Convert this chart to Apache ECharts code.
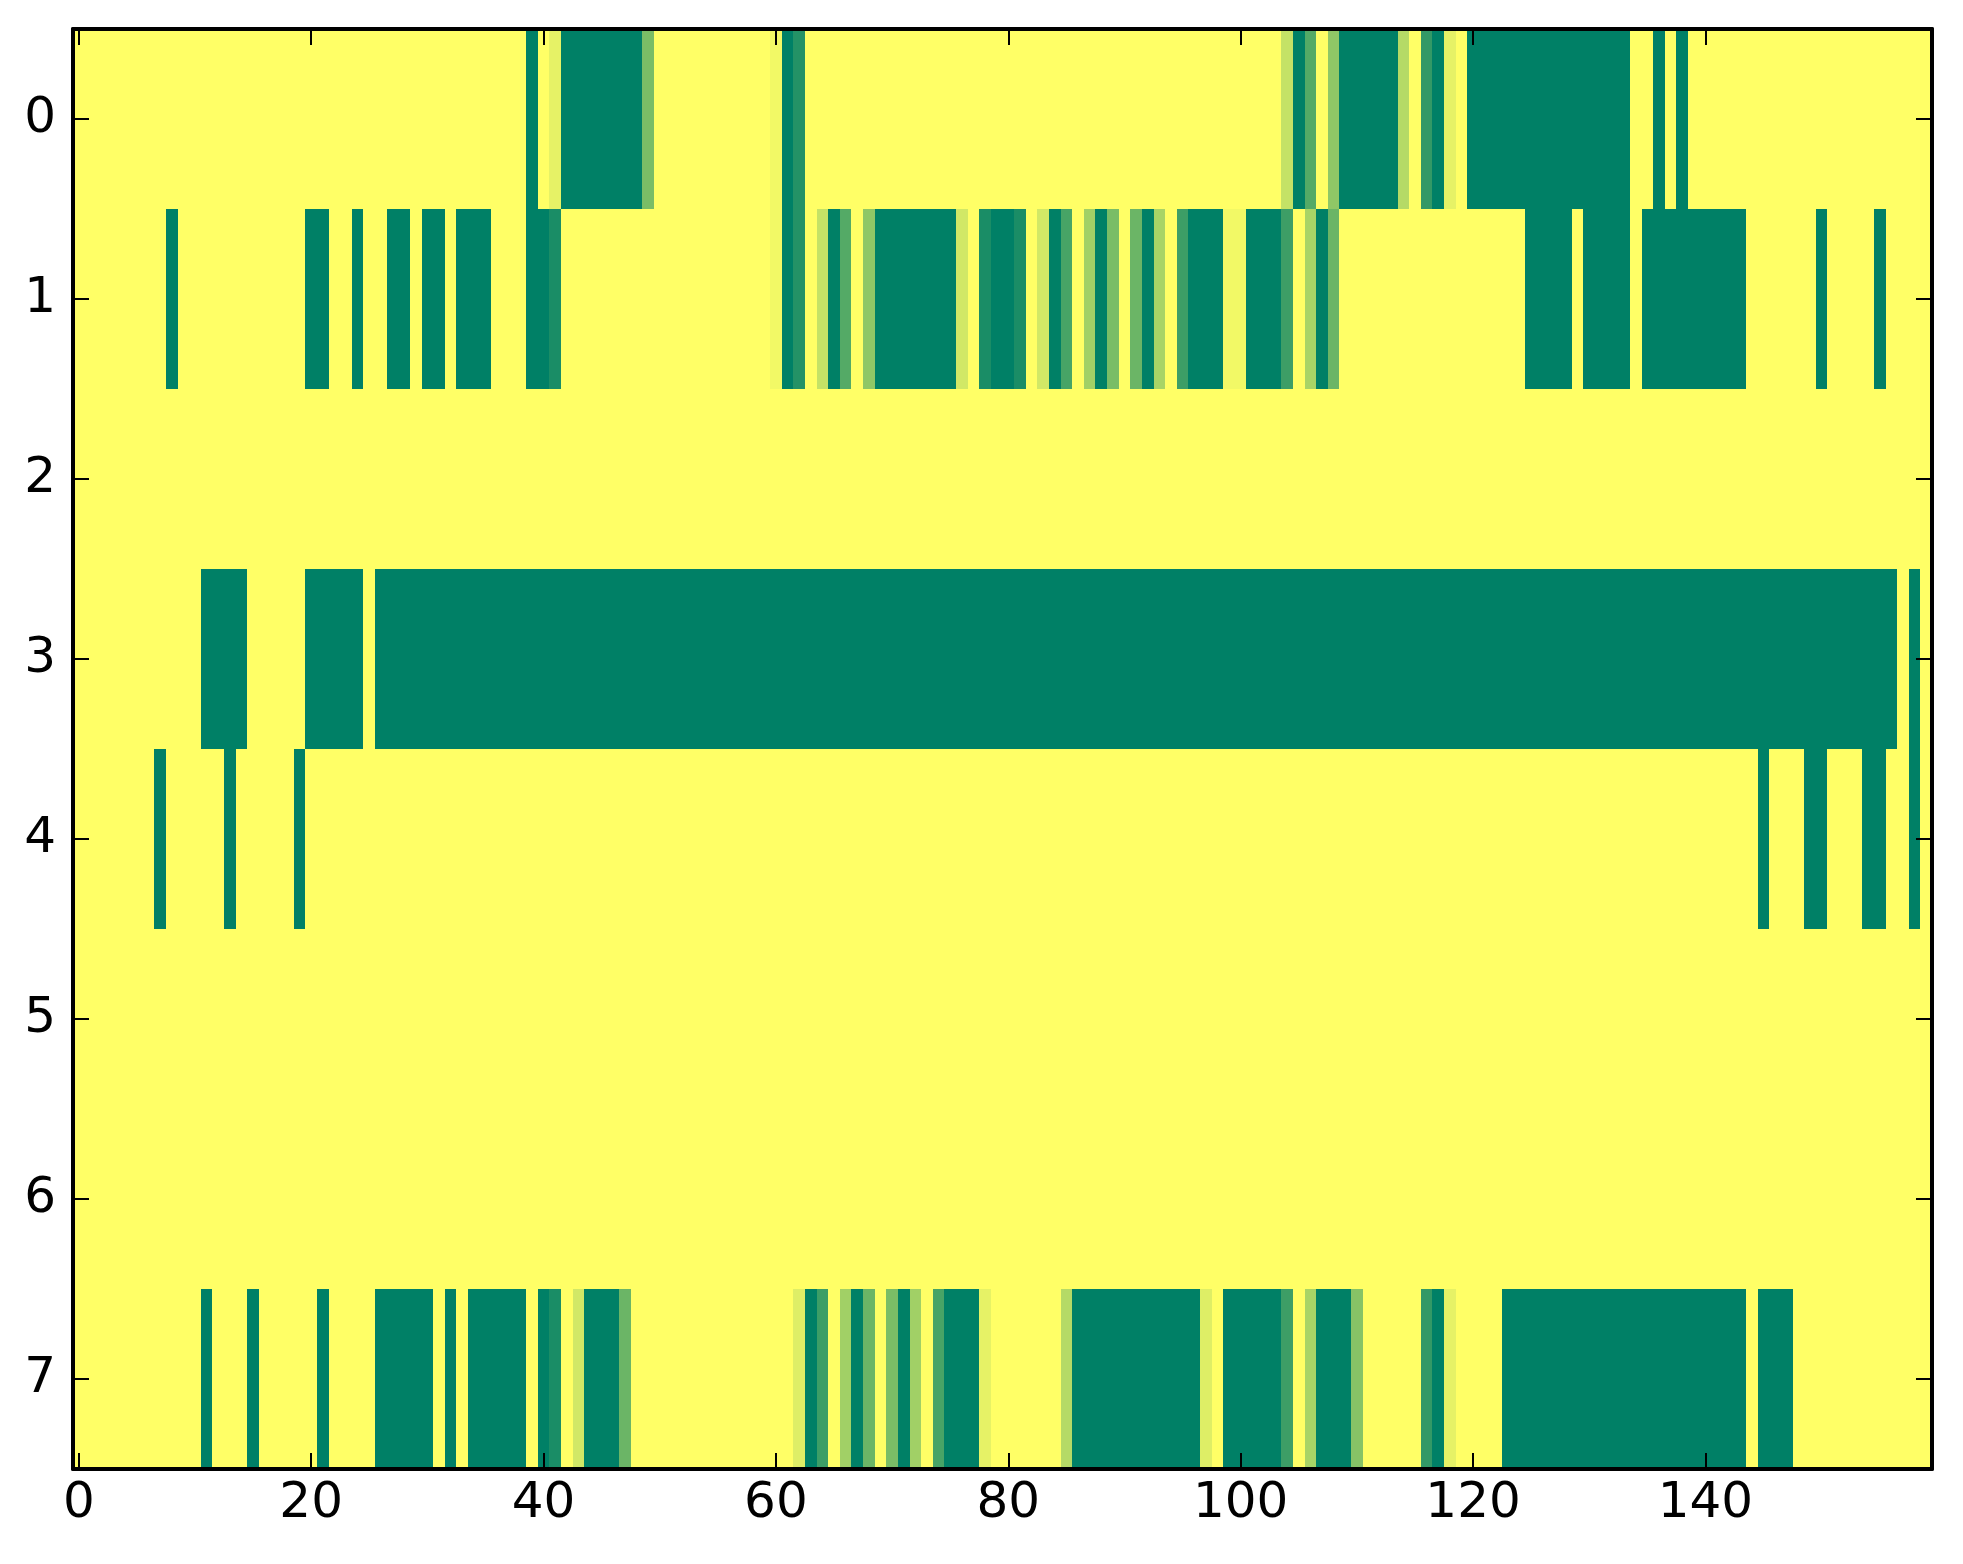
<!DOCTYPE html>
<html>
<head>
<meta charset="utf-8">
<script src="https://cdn.jsdelivr.net/npm/echarts@6/dist/echarts.min.js"></script>
<style>
html,body{margin:0;padding:0;background:#ffffff;}
#chart{width:1963px;height:1564px;}
</style>
</head>
<body>
<div id="chart"></div>
<script>
// x categories: column index 0..159, y categories: row index 0..7
const xCategories = Array.from({length: 160}, (_, i) => String(i));
const yCategories = ['0', '1', '2', '3', '4', '5', '6', '7'];
const xTickStep = 20;

// Cell values per row (0 = yellow, 1 = dark green), 160 columns each
const row0 = [
  0,0,0,0,0,0,0,0,0,0,
  0,0,0,0,0,0,0,0,0,0,
  0,0,0,0,0,0,0,0,0,0,
  0,0,0,0,0,0,0,0,0,1,
  0,0.1,1,1,1,1,1,1,1,0.52,
  0,0,0,0,0,0,0,0,0,0,
  0.05,1,0.86,0,0,0,0,0,0,0,
  0,0,0,0,0,0,0,0,0,0,
  0,0,0,0,0,0,0,0,0,0,
  0,0,0,0,0,0,0,0,0,0,
  0,0,0,0,0.23,1,0.67,0,0.44,1,
  1,1,1,1,0.29,0,0.8,1,0.1,0,
  1,1,1,1,1,1,1,1,1,1,
  1,1,1,1,0,0,1,0,1,0,
  0,0,0,0,0,0,0,0,0,0,
  0,0,0,0,0,0,0,0,0,0
];
const row1 = [
  0,0,0,0,0,0,0,0,1,0,
  0,0,0,0,0,0,0,0,0,0,
  1,1,0,0,1,0,0,1,1,0,
  1,1,0,1,1,1,0,0,0,1,
  1,0.9,0,0,0,0,0,0,0,0,
  0,0,0,0,0,0,0,0,0,0,
  0.05,1,0.86,0,0.23,1,0.67,0,0.44,1,
  1,1,1,1,1,1,0.18,0,0.9,1,
  1,0.9,0,0.18,1,0.72,0,0.37,1,0.52,
  0,0.58,1,0.34,0,0.76,1,1,1,0.05,
  0.05,1,1,1,0.76,0,0.34,1,0.58,0,
  0,0,0,0,0,0,0,0,0,0,
  0,0,0,0,0,1,1,1,1,0,
  1,1,1,1,0,1,1,1,1,1,
  1,1,1,1,0,0,0,0,0,0,
  1,0,0,0,0,1,0,0,0,0
];
const row2 = [
  0,0,0,0,0,0,0,0,0,0,
  0,0,0,0,0,0,0,0,0,0,
  0,0,0,0,0,0,0,0,0,0,
  0,0,0,0,0,0,0,0,0,0,
  0,0,0,0,0,0,0,0,0,0,
  0,0,0,0,0,0,0,0,0,0,
  0,0,0,0,0,0,0,0,0,0,
  0,0,0,0,0,0,0,0,0,0,
  0,0,0,0,0,0,0,0,0,0,
  0,0,0,0,0,0,0,0,0,0,
  0,0,0,0,0,0,0,0,0,0,
  0,0,0,0,0,0,0,0,0,0,
  0,0,0,0,0,0,0,0,0,0,
  0,0,0,0,0,0,0,0,0,0,
  0,0,0,0,0,0,0,0,0,0,
  0,0,0,0,0,0,0,0,0,0
];
const row3 = [
  0,0,0,0,0,0,0,0,0,0,
  0,1,1,1,1,0,0,0,0,0,
  1,1,1,1,1,0,1,1,1,1,
  1,1,1,1,1,1,1,1,1,1,
  1,1,1,1,1,1,1,1,1,1,
  1,1,1,1,1,1,1,1,1,1,
  1,1,1,1,1,1,1,1,1,1,
  1,1,1,1,1,1,1,1,1,1,
  1,1,1,1,1,1,1,1,1,1,
  1,1,1,1,1,1,1,1,1,1,
  1,1,1,1,1,1,1,1,1,1,
  1,1,1,1,1,1,1,1,1,1,
  1,1,1,1,1,1,1,1,1,1,
  1,1,1,1,1,1,1,1,1,1,
  1,1,1,1,1,1,1,1,1,1,
  1,1,1,1,1,1,1,0,1,0
];
const row4 = [
  0,0,0,0,0,0,0,1,0,0,
  0,0,0,1,0,0,0,0,0,1,
  0,0,0,0,0,0,0,0,0,0,
  0,0,0,0,0,0,0,0,0,0,
  0,0,0,0,0,0,0,0,0,0,
  0,0,0,0,0,0,0,0,0,0,
  0,0,0,0,0,0,0,0,0,0,
  0,0,0,0,0,0,0,0,0,0,
  0,0,0,0,0,0,0,0,0,0,
  0,0,0,0,0,0,0,0,0,0,
  0,0,0,0,0,0,0,0,0,0,
  0,0,0,0,0,0,0,0,0,0,
  0,0,0,0,0,0,0,0,0,0,
  0,0,0,0,0,0,0,0,0,0,
  0,0,0,0,0,1,0,0,0,1,
  1,0,0,0,1,1,0,0,1,0
];
const row5 = [
  0,0,0,0,0,0,0,0,0,0,
  0,0,0,0,0,0,0,0,0,0,
  0,0,0,0,0,0,0,0,0,0,
  0,0,0,0,0,0,0,0,0,0,
  0,0,0,0,0,0,0,0,0,0,
  0,0,0,0,0,0,0,0,0,0,
  0,0,0,0,0,0,0,0,0,0,
  0,0,0,0,0,0,0,0,0,0,
  0,0,0,0,0,0,0,0,0,0,
  0,0,0,0,0,0,0,0,0,0,
  0,0,0,0,0,0,0,0,0,0,
  0,0,0,0,0,0,0,0,0,0,
  0,0,0,0,0,0,0,0,0,0,
  0,0,0,0,0,0,0,0,0,0,
  0,0,0,0,0,0,0,0,0,0,
  0,0,0,0,0,0,0,0,0,0
];
const row6 = [
  0,0,0,0,0,0,0,0,0,0,
  0,0,0,0,0,0,0,0,0,0,
  0,0,0,0,0,0,0,0,0,0,
  0,0,0,0,0,0,0,0,0,0,
  0,0,0,0,0,0,0,0,0,0,
  0,0,0,0,0,0,0,0,0,0,
  0,0,0,0,0,0,0,0,0,0,
  0,0,0,0,0,0,0,0,0,0,
  0,0,0,0,0,0,0,0,0,0,
  0,0,0,0,0,0,0,0,0,0,
  0,0,0,0,0,0,0,0,0,0,
  0,0,0,0,0,0,0,0,0,0,
  0,0,0,0,0,0,0,0,0,0,
  0,0,0,0,0,0,0,0,0,0,
  0,0,0,0,0,0,0,0,0,0,
  0,0,0,0,0,0,0,0,0,0
];
const row7 = [
  0,0,0,0,0,0,0,0,0,0,
  0,1,0,0,0,1,0,0,0,0,
  0,1,0,0,0,0,1,1,1,1,
  1,0,1,0,1,1,1,1,1,0,
  1,0.9,0,0.18,1,1,1,0.58,0,0,
  0,0,0,0,0,0,0,0,0,0,
  0,0,0.13,1,0.76,0,0.37,1,0.58,0,
  0.52,1,0.37,0,0.72,1,1,1,0.1,0,
  0,0,0,0,0,0.29,1,1,1,1,
  1,1,1,1,1,1,1,0.13,0,1,
  1,1,1,1,0.76,0,0.34,1,1,1,
  0.47,0,0,0,0,0,0.8,1,0.1,0,
  0,0,0,1,1,1,1,1,1,1,
  1,1,1,1,1,1,1,1,1,1,
  1,1,1,1,0,1,1,1,0,0,
  0,0,0,0,0,0,0,0,0,0
];
const rows = [row0, row1, row2, row3, row4, row5, row6, row7];

const cells = [];
rows.forEach((r, y) => r.forEach((v, x) => cells.push([x, y, v])));

const FONT = 'DejaVu Sans';
const everyN = (i) => i % xTickStep === 0;

function renderCell(params, api) {
  const c = api.coord([api.value(0), api.value(1)]);
  const s = api.size([1, 1]);
  const x0 = Math.round(c[0] - s[0] / 2), x1 = Math.round(c[0] + s[0] / 2);
  const y0 = Math.round(c[1] - s[1] / 2), y1 = Math.round(c[1] + s[1] / 2);
  return {
    type: 'rect',
    shape: {x: x0, y: y0, width: x1 - x0, height: y1 - y0},
    style: {fill: api.visual('color')}
  };
}

const chart = echarts.init(document.getElementById('chart'), null, {renderer: 'canvas'});
chart.setOption({
  backgroundColor: '#ffffff',
  animation: false,
  grid: {left: 73, right: 31, top: 29, bottom: 95, containLabel: false},
  visualMap: {
    show: false, type: 'continuous', min: 0, max: 1, dimension: 2, seriesIndex: 0,
    inRange: {color: ['#ffff66', '#008066']}
  },
  xAxis: [
    {
      type: 'category', data: xCategories, position: 'bottom', boundaryGap: true,
      axisLine: {show: true, onZero: false, lineStyle: {color: '#000', width: 4}},
      axisTick: {show: true, inside: true, length: 16, alignWithLabel: true, interval: everyN, lineStyle: {color: '#000', width: 2}},
      axisLabel: {show: true, interval: everyN, fontFamily: FONT, fontSize: 50, color: '#000', margin: 10},
      splitLine: {show: false}, z: 10
    },
    {
      type: 'category', data: xCategories, position: 'top', boundaryGap: true,
      axisLine: {show: true, onZero: false, lineStyle: {color: '#000', width: 4}},
      axisTick: {show: true, inside: true, length: 16, alignWithLabel: true, interval: everyN, lineStyle: {color: '#000', width: 2}},
      axisLabel: {show: false},
      splitLine: {show: false}, z: 10
    }
  ],
  yAxis: [
    {
      type: 'category', data: yCategories, inverse: true, position: 'left', boundaryGap: true,
      axisLine: {show: true, onZero: false, lineStyle: {color: '#000', width: 4}},
      axisTick: {show: true, inside: true, length: 16, alignWithLabel: true, lineStyle: {color: '#000', width: 2}},
      axisLabel: {show: true, fontFamily: FONT, fontSize: 50, color: '#000', margin: 17},
      splitLine: {show: false}, z: 10
    },
    {
      type: 'category', data: yCategories, inverse: true, position: 'right', boundaryGap: true,
      axisLine: {show: true, onZero: false, lineStyle: {color: '#000', width: 4}},
      axisTick: {show: true, inside: true, length: 16, alignWithLabel: true, lineStyle: {color: '#000', width: 2}},
      axisLabel: {show: false},
      splitLine: {show: false}, z: 10
    }
  ],
  series: [{
    type: 'custom', xAxisIndex: 0, yAxisIndex: 0, data: cells,
    encode: {x: 0, y: 1},
    renderItem: renderCell,
    silent: true, z: 1
  }]
});
</script>
</body>
</html>
